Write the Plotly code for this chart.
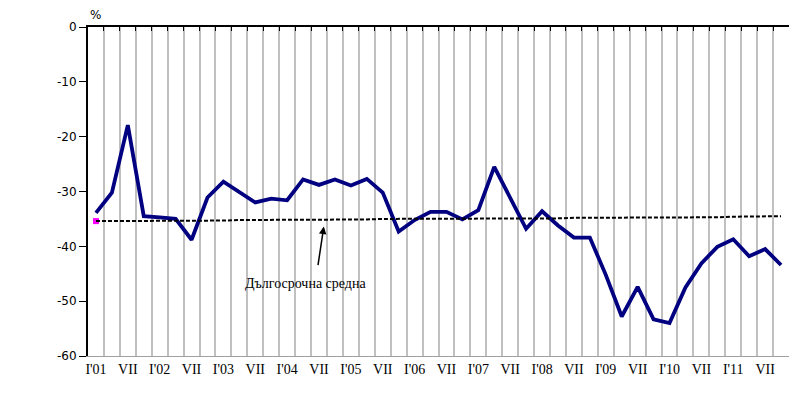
import plotly.graph_objects as go

values = [-33.9, -30.2, -17.9, -34.5, -34.7, -35.0, -38.8, -31.1, -28.2, -30.1,
          -32.0, -31.3, -31.6, -27.8, -28.8, -27.8, -28.9, -27.7, -30.2, -37.3,
          -35.2, -33.7, -33.7, -35.1, -33.4, -25.5, -31.1, -36.8, -33.6, -36.2,
          -38.4, -38.4, -45.2, -52.8, -47.4, -53.3, -54.0, -47.5, -43.1, -40.1,
          -38.7, -41.8, -40.5, -43.4]
long_avg = [-35.4, -35.4, -35.4, -35.4, -35.3, -35.3, -35.3, -35.3, -35.3, -35.2,
            -35.2, -35.2, -35.2, -35.2, -35.1, -35.1, -35.1, -35.1, -35.0, -35.0,
            -35.0, -35.0, -35.0, -35.0, -34.9, -34.9, -34.9, -34.9, -34.9, -34.9,
            -34.8, -34.8, -34.8, -34.8, -34.8, -34.7, -34.7, -34.7, -34.7, -34.7,
            -34.6, -34.6, -34.6, -34.5]
tick_labels = ["I'01", "VII", "I'02", "VII", "I'03", "VII", "I'04", "VII", "I'05", "VII",
               "I'06", "VII", "I'07", "VII", "I'08", "VII", "I'09", "VII", "I'10", "VII",
               "I'11", "VII"]
y_ticks = [0, -10, -20, -30, -40, -50, -60]
y_tick_text = ["0", "-10", "-20", "-30", "-40", "-50", "-60"]

n = len(values)
xs = list(range(n))
label_pos = xs[::2]
grid_pos = [i + 0.5 for i in range(-1, n)]

fig = go.Figure()
fig.add_trace(go.Scatter(x=xs, y=long_avg, mode="lines", xaxis="x2",
                         line=dict(color="black", width=2, dash="4px,2px"),
                         hoverinfo="skip", showlegend=False))
fig.add_trace(go.Scatter(x=xs[:1], y=long_avg[:1], mode="markers",
                         marker=dict(symbol="square", size=6, color="#ff00ff"),
                         showlegend=False))
fig.add_trace(go.Scatter(x=xs, y=values, mode="lines",
                         line=dict(color="#000080", width=3.8),
                         showlegend=False))

xr = [-0.5, n - 0.5]
fig.update_layout(
    width=797, height=389,
    margin=dict(l=80, r=16, t=19, b=41, autoexpand=False),
    paper_bgcolor="white", plot_bgcolor="white",
    xaxis=dict(range=xr, tickmode="array", tickvals=label_pos, ticktext=tick_labels,
               showgrid=False, zeroline=False, ticks="", automargin=False,
               showline=True, linecolor="#a0a0a0", linewidth=1, mirror=False,
               tickfont=dict(family="Liberation Serif", size=14, color="black")),
    xaxis2=dict(range=xr, overlaying="x", side="top", anchor="y",
                tickmode="array", tickvals=grid_pos, showticklabels=False,
                showgrid=True, gridcolor="#c0c0c0", gridwidth=2,
                ticks="inside", ticklen=4, tickcolor="black", tickwidth=1,
                showline=True, linecolor="black", linewidth=2, zeroline=False),
    yaxis=dict(range=[-60, 0], tickmode="array", tickvals=y_ticks, ticktext=y_tick_text,
               showgrid=False, zeroline=False, ticks="outside", ticklen=7, automargin=False,
               tickcolor="black", showline=True, linecolor="black", linewidth=2,
               tickfont=dict(family="DejaVu Sans", size=12, color="black")),
    yaxis2=dict(range=[-60, 0], overlaying="y", side="right", anchor="x",
                showticklabels=False, showgrid=False, zeroline=False,
                showline=True, linecolor="#a0a0a0", linewidth=1, ticks=""),
    annotations=[
        dict(x=14.3, y=-36.4, xref="x", yref="y", text="", showarrow=True,
             arrowhead=2, arrowsize=1, arrowwidth=1.5, arrowcolor="black",
             ax=-6, ay=40),
        dict(x=13.15, y=-46.8, xref="x", yref="y", text="Дългосрочна средна",
             showarrow=False, font=dict(family="Liberation Serif", size=14, color="black")),
        dict(x=-0.05, y=1, xref="x", yref="paper", yshift=12, text="%", showarrow=False,
             xanchor="center", yanchor="middle",
             font=dict(family="DejaVu Sans", size=12, color="black")),
    ],
)
fig.data[0].update(yaxis="y")
fig.write_html("out.html")
